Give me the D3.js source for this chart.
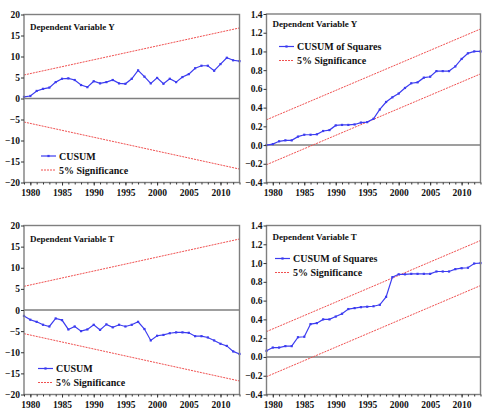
<!DOCTYPE html>
<html>
<head>
<meta charset="utf-8">
<script src="https://cdn.jsdelivr.net/npm/d3@7"></script>
<style>
  body { margin: 0; background: #fff; }
  svg text { font-family: "Liberation Serif", "Times New Roman", serif !important; font-weight: bold; }
</style>
</head>
<body>
<div id="chart"></div>
<script>
// years on the x axis
var years = [1979, 1980, 1981, 1982, 1983, 1984, 1985, 1986, 1987, 1988, 1989,
             1990, 1991, 1992, 1993, 1994, 1995, 1996, 1997, 1998, 1999, 2000,
             2001, 2002, 2003, 2004, 2005, 2006, 2007, 2008, 2009, 2010, 2011,
             2012, 2013];
var xTickYears = [1980, 1985, 1990, 1995, 2000, 2005, 2010];

// CUSUM, dependent variable Y
var cusumY = [0.4, 0.6, 1.8, 2.3, 2.6, 3.9, 4.7, 4.8, 4.4, 3.2, 2.7,
              4.1, 3.6, 3.9, 4.4, 3.6, 3.5, 4.7, 6.7, 5.2, 3.6, 4.9,
              3.5, 4.7, 3.9, 5.1, 5.8, 7.2, 7.8, 7.8, 6.6, 8.2, 9.7,
              9.1, 8.9];
// CUSUM of squares, dependent variable Y
var cusumSqY = [0.0, 0.01, 0.04, 0.05, 0.05, 0.09, 0.11, 0.11, 0.115, 0.15, 0.16,
                0.21, 0.215, 0.215, 0.22, 0.24, 0.245, 0.28, 0.38, 0.46, 0.51, 0.55,
                0.61, 0.66, 0.67, 0.72, 0.73, 0.79, 0.79, 0.79, 0.84, 0.92, 0.98,
                1.0, 1.0];
// CUSUM, dependent variable T
var cusumT = [-1.4, -2.3, -2.8, -3.5, -3.9, -2.0, -2.4, -4.6, -3.9, -5.0, -4.6,
              -3.5, -4.7, -3.4, -4.1, -3.5, -3.9, -3.5, -2.8, -4.5, -7.2, -6.1,
              -5.9, -5.5, -5.3, -5.3, -5.4, -6.2, -6.2, -6.5, -7.2, -8.0, -8.5,
              -9.8, -10.4];
// CUSUM of squares, dependent variable T
var cusumSqT = [0.065, 0.10, 0.10, 0.115, 0.115, 0.21, 0.215, 0.35, 0.36, 0.40, 0.40,
                0.43, 0.46, 0.51, 0.52, 0.53, 0.535, 0.54, 0.555, 0.64, 0.85, 0.88,
                0.88, 0.885, 0.885, 0.885, 0.885, 0.91, 0.91, 0.91, 0.935, 0.945, 0.95,
                0.995, 1.0];

// 5% significance bounds (straight lines, first and last year)
var boundYears = [1979, 2013];
var cusumUpper = [5.6, 16.8];
var cusumLower = [-5.6, -16.8];
var sqUpper = [0.27, 1.24];
var sqLower = [-0.21, 0.76];

// y tick values
var cusumTicks = [20, 15, 10, 5, 0, -5, -10, -15, -20];
var sqTicks = [1.4, 1.2, 1.0, 0.8, 0.6, 0.4, 0.2, 0.0, -0.2, -0.4];

var W = 486, H = 412;
var svg = d3.select("#chart").append("svg")
  .attr("width", W)
  .attr("height", H);

var blue = "#3c3cf0";
var red = "#f05050";
var frame = "#7f7f7f";
var serif = "'Liberation Serif', 'Times New Roman', serif";

function drawPanel(p) {
  var x = d3.scaleLinear().domain([1979, 2013]).range([p.left, p.right]);
  var y = d3.scaleLinear().domain(p.yDomain).range([p.bottom, p.top]);
  var g = svg.append("g");

  // zero line
  g.append("line")
    .attr("x1", p.left).attr("x2", p.right)
    .attr("y1", y(0)).attr("y2", y(0))
    .attr("stroke", frame).attr("stroke-width", 1.4);

  // bounds
  [p.upper, p.lower].forEach(function(b) {
    g.append("path")
      .datum(boundYears.map(function(yr, i) { return [yr, b[i]]; }))
      .attr("d", d3.line().x(function(d) { return x(d[0]); }).y(function(d) { return y(d[1]); }))
      .attr("fill", "none")
      .attr("stroke", red)
      .attr("stroke-width", 1)
      .attr("stroke-dasharray", "2,1");
  });

  // series
  var pts = years.map(function(yr, i) { return [yr, p.values[i]]; });
  g.append("path")
    .datum(pts)
    .attr("d", d3.line().x(function(d) { return x(d[0]); }).y(function(d) { return y(d[1]); }))
    .attr("fill", "none")
    .attr("stroke", blue)
    .attr("stroke-width", 1.2);
  g.selectAll("rect.mk")
    .data(pts)
    .enter()
    .append("rect")
    .attr("class", "mk")
    .attr("x", function(d) { return x(d[0]) - 1.1; })
    .attr("y", function(d) { return y(d[1]) - 1.1; })
    .attr("width", 2.2).attr("height", 2.2)
    .attr("fill", blue);

  // frame
  g.append("rect")
    .attr("x", p.left).attr("y", p.top)
    .attr("width", p.right - p.left).attr("height", p.bottom - p.top)
    .attr("fill", "none").attr("stroke", frame).attr("stroke-width", 1.4);

  // x axis
  var xAxis = g.append("g").attr("transform", "translate(0," + p.bottom + ")");
  xAxis.call(d3.axisBottom(x).tickValues(years).tickSize(2).tickFormat(""));
  xAxis.append("g").call(d3.axisBottom(x).tickValues(xTickYears).tickSize(3)
      .tickFormat(d3.format("d")).tickPadding(4));
  xAxis.selectAll(".domain").remove();
  xAxis.attr("font-family", serif);
  xAxis.selectAll("g").attr("font-family", serif);
  xAxis.selectAll("line").attr("stroke", "#333");
  xAxis.selectAll("text").attr("font-size", 9.5).attr("fill", "#111")
    .style("font-family", serif).style("font-weight", "bold");

  // y axis
  var yAxis = g.append("g").attr("transform", "translate(" + p.left + ",0)");
  yAxis.call(d3.axisLeft(y).tickValues(p.ticks).tickSize(3).tickPadding(1)
      .tickFormat(p.fmt));
  yAxis.selectAll(".domain").remove();
  yAxis.attr("font-family", serif);
  yAxis.selectAll("line").attr("stroke", "#333");
  yAxis.selectAll("text").attr("font-size", 9.5).attr("fill", "#111")
    .style("font-family", serif).style("font-weight", "bold");

  // title
  g.append("text")
    .attr("x", p.left + 6).attr("y", p.titleY)
    .attr("font-size", 9).attr("fill", "#111")
    .style("font-family", serif)
    .text(p.title);

  // legend
  var lg = g.append("g").style("font-family", serif);
  lg.append("line")
    .attr("x1", p.legX).attr("x2", p.legX + 15)
    .attr("y1", p.legY).attr("y2", p.legY)
    .attr("stroke", blue).attr("stroke-width", 1.2);
  lg.append("rect")
    .attr("x", p.legX + 6.4).attr("y", p.legY - 1.1)
    .attr("width", 2.2).attr("height", 2.2).attr("fill", blue);
  lg.append("text")
    .attr("x", p.legX + 18).attr("y", p.legY + 3.5)
    .attr("font-size", 10).attr("fill", "#111")
    .text(p.legend);
  lg.append("line")
    .attr("x1", p.legX).attr("x2", p.legX + 15)
    .attr("y1", p.legY + 14).attr("y2", p.legY + 14)
    .attr("stroke", red).attr("stroke-width", 1).attr("stroke-dasharray", "2,1");
  lg.append("text")
    .attr("x", p.legX + 18).attr("y", p.legY + 17.5)
    .attr("font-size", 10).attr("fill", "#111")
    .text("5% Significance");
}

var fmtInt = d3.format("d");
var fmt1 = d3.format(".1f");

drawPanel({ left: 24, right: 239.5, top: 14.5, bottom: 182.5,
  yDomain: [-20, 20], ticks: cusumTicks, fmt: fmtInt,
  values: cusumY, upper: cusumUpper, lower: cusumLower,
  title: "Dependent Variable Y", titleY: 30,
  legend: "CUSUM", legX: 41, legY: 156 });

drawPanel({ left: 266.5, right: 480.5, top: 14, bottom: 182.5,
  yDomain: [-0.4, 1.4], ticks: sqTicks, fmt: fmt1,
  values: cusumSqY, upper: sqUpper, lower: sqLower,
  title: "Dependent Variable Y", titleY: 27,
  legend: "CUSUM of Squares", legX: 279, legY: 46.5 });

drawPanel({ left: 24, right: 239.5, top: 225.5, bottom: 394.5,
  yDomain: [-20, 20], ticks: cusumTicks, fmt: fmtInt,
  values: cusumT, upper: cusumUpper, lower: cusumLower,
  title: "Dependent Variable T", titleY: 241.5,
  legend: "CUSUM", legX: 38, legY: 368.5 });

drawPanel({ left: 266.5, right: 480.5, top: 225.5, bottom: 394.5,
  yDomain: [-0.4, 1.4], ticks: sqTicks, fmt: fmt1,
  values: cusumSqT, upper: sqUpper, lower: sqLower,
  title: "Dependent Variable T", titleY: 240,
  legend: "CUSUM of Squares", legX: 275, legY: 258.5 });
</script>
</body>
</html>
